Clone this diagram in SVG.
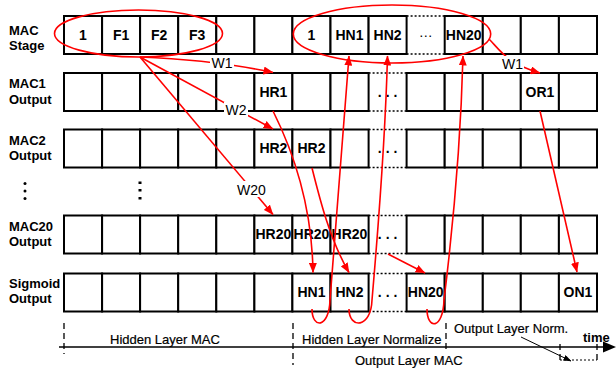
<svg xmlns="http://www.w3.org/2000/svg" width="616" height="368" viewBox="0 0 616 368">
<style>
.cell{fill:#fff;stroke:#000;stroke-width:2}
.dot{stroke:#000;stroke-width:1.6;stroke-dasharray:2,2;fill:none}
.ct{font-family:"Liberation Sans",Arial,sans-serif;font-weight:bold;font-size:14px;text-anchor:middle;fill:#000}
.ctn{font-family:"Liberation Sans",Arial,sans-serif;font-size:14px;text-anchor:middle;fill:#000}
.lbl{font-family:"Liberation Sans",Arial,sans-serif;font-weight:bold;font-size:13px;fill:#000}
.ax{font-family:"Liberation Sans",Arial,sans-serif;font-size:13px;fill:#000;stroke:#000;stroke-width:0.2}
.w{font-family:"Liberation Sans",Arial,sans-serif;font-size:14px;text-anchor:middle;fill:#000}
.wbg{fill:#fff;stroke:none}
.red{fill:none;stroke:#ff0000;stroke-width:1.6}
.redA{fill:none;stroke:#ff0000;stroke-width:1.6;marker-end:url(#ra)}
.dash{stroke:#000;stroke-width:1.3;stroke-dasharray:6,4;fill:none}
</style>
<defs>
<marker id="ra" viewBox="0 0 10 8" refX="9.5" refY="4" markerWidth="10" markerHeight="8" markerUnits="userSpaceOnUse" orient="auto"><path d="M0,0 L10,4 L0,8 z" fill="#ff0000"/></marker>
<marker id="ka" viewBox="0 0 8 6" refX="7.5" refY="3" markerWidth="8" markerHeight="6" markerUnits="userSpaceOnUse" orient="auto"><path d="M0,0 L8,3 L0,6 z" fill="#000"/></marker>
</defs>

<g id="row-labels">
<text class="lbl" x="9" y="35">MAC</text><text class="lbl" x="9" y="50">Stage</text>
<text class="lbl" x="9" y="88">MAC1</text><text class="lbl" x="9" y="103.5">Output</text>
<text class="lbl" x="9" y="144.5">MAC2</text><text class="lbl" x="9" y="160">Output</text>
<text class="lbl" x="9" y="230.5">MAC20</text><text class="lbl" x="9" y="245.5">Output</text>
<text class="lbl" x="9" y="287.5">Sigmoid</text><text class="lbl" x="9" y="303">Output</text>
</g>

<g id="vdots">
<circle cx="25" cy="183.5" r="1.5"/><circle cx="25" cy="191" r="1.5"/><circle cx="25" cy="198.5" r="1.5"/>
<rect x="138.5" y="181.5" width="3" height="2.5"/><rect x="138.5" y="189" width="3" height="2.5"/><rect x="138.5" y="197" width="3" height="2.5"/>
</g>

<!-- Row 0: MAC Stage -->
<g id="row-mac-stage">
<rect class="cell" x="64" y="16" width="38.1" height="38"/>
<rect class="cell" x="102.1" y="16" width="38" height="38"/>
<rect class="cell" x="140.1" y="16" width="38.1" height="38"/>
<rect class="cell" x="178.2" y="16" width="38.1" height="38"/>
<rect class="cell" x="216.3" y="16" width="38.1" height="38"/>
<rect class="cell" x="254.4" y="16" width="38" height="38"/>
<rect class="cell" x="292.4" y="16" width="38.1" height="38"/>
<rect class="cell" x="330.5" y="16" width="38.1" height="38"/>
<rect class="cell" x="368.6" y="16" width="38" height="38"/>
<rect class="cell" x="444.7" y="16" width="38.1" height="38"/>
<rect class="cell" x="482.8" y="16" width="38" height="38"/>
<rect class="cell" x="520.8" y="16" width="38.1" height="38"/>
<rect class="cell" x="558.9" y="16" width="38.1" height="38"/>
<line class="dot" x1="406.6" y1="16" x2="444.7" y2="16"/><line class="dot" x1="406.6" y1="54" x2="444.7" y2="54"/>
<g id="s-1"><text class="ct" x="83" y="39.5">1</text></g>
<g id="s-F1"><text class="ct" x="121.1" y="39.5">F1</text></g>
<g id="s-F2"><text class="ct" x="159.2" y="39.5">F2</text></g>
<g id="s-F3"><text class="ct" x="197.2" y="39.5">F3</text></g>
<g id="s-1b"><text class="ct" x="311.5" y="39.5">1</text></g>
<g id="s-HN1"><text class="ct" x="349.5" y="39.5">HN1</text></g>
<g id="s-HN2"><text class="ct" x="387.6" y="39.5">HN2</text></g>
<g id="s-dots"><text class="ctn" x="425.7" y="37">…</text></g>
<g id="s-HN20"><text class="ct" x="463.7" y="39.5">HN20</text></g>
</g>

<!-- Row 1: MAC1 -->
<g id="row-mac1">
<rect class="cell" x="64" y="73" width="38.1" height="38"/>
<rect class="cell" x="102.1" y="73" width="38" height="38"/>
<rect class="cell" x="140.1" y="73" width="38.1" height="38"/>
<rect class="cell" x="178.2" y="73" width="38.1" height="38"/>
<rect class="cell" x="216.3" y="73" width="38.1" height="38"/>
<rect class="cell" x="254.4" y="73" width="38" height="38"/>
<rect class="cell" x="292.4" y="73" width="38.1" height="38"/>
<rect class="cell" x="330.5" y="73" width="38.1" height="38"/>
<rect class="cell" x="406.6" y="73" width="38.1" height="38"/>
<rect class="cell" x="444.7" y="73" width="38.1" height="38"/>
<rect class="cell" x="482.8" y="73" width="38" height="38"/>
<rect class="cell" x="520.8" y="73" width="38.1" height="38"/>
<rect class="cell" x="558.9" y="73" width="38.1" height="38"/>
<line class="dot" x1="368.6" y1="73" x2="406.6" y2="73"/><line class="dot" x1="368.6" y1="111" x2="406.6" y2="111"/>
<g id="m1-HR1"><text class="ct" x="273.4" y="96.5">HR1</text></g>
<g id="m1-dots"><text class="ct" x="387.6" y="96.5">. . .</text></g>
<g id="m1-OR1"><text class="ct" x="539.9" y="96.5">OR1</text></g>
</g>

<!-- Row 2: MAC2 -->
<g id="row-mac2">
<rect class="cell" x="64" y="129.5" width="38.1" height="38"/>
<rect class="cell" x="102.1" y="129.5" width="38" height="38"/>
<rect class="cell" x="140.1" y="129.5" width="38.1" height="38"/>
<rect class="cell" x="178.2" y="129.5" width="38.1" height="38"/>
<rect class="cell" x="216.3" y="129.5" width="38.1" height="38"/>
<rect class="cell" x="254.4" y="129.5" width="38" height="38"/>
<rect class="cell" x="292.4" y="129.5" width="38.1" height="38"/>
<rect class="cell" x="330.5" y="129.5" width="38.1" height="38"/>
<rect class="cell" x="406.6" y="129.5" width="38.1" height="38"/>
<rect class="cell" x="444.7" y="129.5" width="38.1" height="38"/>
<rect class="cell" x="482.8" y="129.5" width="38" height="38"/>
<rect class="cell" x="520.8" y="129.5" width="38.1" height="38"/>
<rect class="cell" x="558.9" y="129.5" width="38.1" height="38"/>
<line class="dot" x1="368.6" y1="129.5" x2="406.6" y2="129.5"/><line class="dot" x1="368.6" y1="167.5" x2="406.6" y2="167.5"/>
<g id="m2-HR2a"><text class="ct" x="273.4" y="153">HR2</text></g>
<g id="m2-HR2b"><text class="ct" x="311.5" y="153">HR2</text></g>
<g id="m2-dots"><text class="ct" x="387.6" y="153">. . .</text></g>
</g>

<!-- Row 3: MAC20 -->
<g id="row-mac20">
<rect class="cell" x="64" y="215.5" width="38.1" height="38"/>
<rect class="cell" x="102.1" y="215.5" width="38" height="38"/>
<rect class="cell" x="140.1" y="215.5" width="38.1" height="38"/>
<rect class="cell" x="178.2" y="215.5" width="38.1" height="38"/>
<rect class="cell" x="216.3" y="215.5" width="38.1" height="38"/>
<rect class="cell" x="254.4" y="215.5" width="38" height="38"/>
<rect class="cell" x="292.4" y="215.5" width="38.1" height="38"/>
<rect class="cell" x="330.5" y="215.5" width="38.1" height="38"/>
<rect class="cell" x="406.6" y="215.5" width="38.1" height="38"/>
<rect class="cell" x="444.7" y="215.5" width="38.1" height="38"/>
<rect class="cell" x="482.8" y="215.5" width="38" height="38"/>
<rect class="cell" x="520.8" y="215.5" width="38.1" height="38"/>
<rect class="cell" x="558.9" y="215.5" width="38.1" height="38"/>
<line class="dot" x1="368.6" y1="215.5" x2="406.6" y2="215.5"/><line class="dot" x1="368.6" y1="253.5" x2="406.6" y2="253.5"/>
<g id="m20-HR20a"><text class="ct" x="273.4" y="239">HR20</text></g>
<g id="m20-HR20b"><text class="ct" x="311.5" y="239">HR20</text></g>
<g id="m20-HR20c"><text class="ct" x="349.5" y="239">HR20</text></g>
<g id="m20-dots"><text class="ct" x="387.6" y="239">. . .</text></g>
</g>

<!-- Row 4: Sigmoid -->
<g id="row-sigmoid">
<rect class="cell" x="64" y="273.5" width="38.1" height="38"/>
<rect class="cell" x="102.1" y="273.5" width="38" height="38"/>
<rect class="cell" x="140.1" y="273.5" width="38.1" height="38"/>
<rect class="cell" x="178.2" y="273.5" width="38.1" height="38"/>
<rect class="cell" x="216.3" y="273.5" width="38.1" height="38"/>
<rect class="cell" x="254.4" y="273.5" width="38" height="38"/>
<rect class="cell" x="292.4" y="273.5" width="38.1" height="38"/>
<rect class="cell" x="330.5" y="273.5" width="38.1" height="38"/>
<rect class="cell" x="406.6" y="273.5" width="38.1" height="38"/>
<rect class="cell" x="444.7" y="273.5" width="38.1" height="38"/>
<rect class="cell" x="482.8" y="273.5" width="38" height="38"/>
<rect class="cell" x="520.8" y="273.5" width="38.1" height="38"/>
<rect class="cell" x="558.9" y="273.5" width="38.1" height="38"/>
<line class="dot" x1="368.6" y1="273.5" x2="406.6" y2="273.5"/><line class="dot" x1="368.6" y1="311.5" x2="406.6" y2="311.5"/>
<g id="sg-HN1"><text class="ct" x="311.5" y="297">HN1</text></g>
<g id="sg-HN2"><text class="ct" x="349.5" y="297">HN2</text></g>
<g id="sg-dots"><text class="ct" x="387.6" y="297">. . .</text></g>
<g id="sg-HN20"><text class="ct" x="425.7" y="297">HN20</text></g>
<g id="sg-ON1"><text class="ct" x="577.9" y="297">ON1</text></g>
</g>

<g id="groups">
<ellipse class="red" cx="138.5" cy="33.5" rx="84" ry="23.5"/>
<ellipse class="red" cx="392" cy="34" rx="98.7" ry="29"/>
</g>

<g id="connectors">
<path class="redA" d="M140 57 Q215 60 273 72.5"/>
<path class="redA" d="M140 57 L273 129"/>
<path class="redA" d="M140 57 L273 214.5"/>
<path class="redA" d="M489 39 C500 50 506 63 540 73"/>
<path class="redA" d="M273 111 C290 145 312 200 313 272.5"/>
<path class="redA" d="M312 168 C320 200 330 240 349 272.5"/>
<path class="redA" d="M388 254 L425 273"/>
<path class="redA" d="M540 111 L577 272"/>
<path class="redA" d="M312 309 C312 329 329 329 330 300 L349 56"/>
<path class="redA" d="M349 309 C349 329 371 329 372 300 Q385 150 387.5 56"/>
<path class="redA" d="M427 309 C427 330 443 330 444 300 Q460 170 463 56"/>
<rect class="wbg" x="210" y="56" width="24" height="14"/>
<text class="w" x="222" y="67.5">W1</text>
<rect class="wbg" x="224" y="102" width="24" height="15"/>
<text class="w" x="236" y="115">W2</text>
<rect class="wbg" x="236" y="181" width="31" height="16"/>
<text class="w" x="251.5" y="195">W20</text>
<rect class="wbg" x="501" y="56" width="23" height="15"/>
<text class="w" x="512.5" y="68.5">W1</text>
</g>

<g id="timeline">
<line x1="59" y1="347" x2="605" y2="347" stroke="#000" stroke-width="1.5"/>
<polygon points="603,341.5 616,347 603,352.5" fill="#000"/>
<line class="dash" x1="64" y1="323" x2="64" y2="354"/>
<line class="dash" x1="293" y1="323" x2="293" y2="365"/>
<line class="dash" x1="446" y1="323" x2="446" y2="351"/>
<line class="dash" x1="560" y1="344" x2="560" y2="364"/>
<line class="dash" x1="597" y1="344" x2="597" y2="364"/>
<line x1="560" y1="360" x2="597" y2="360" stroke="#000" stroke-width="1" stroke-dasharray="2,2"/>
<line x1="521" y1="337" x2="571" y2="361" stroke="#000" stroke-width="1" marker-end="url(#ka)"/>
<text class="ax" x="110" y="344">Hidden Layer MAC</text>
<text class="ax" x="302" y="343.5">Hidden Layer Normalize</text>
<text class="ax" x="355" y="365">Output Layer MAC</text>
<text class="ax" x="454" y="333">Output Layer Norm.</text>
<text class="lbl" x="583" y="342">time</text>
</g>
</svg>
